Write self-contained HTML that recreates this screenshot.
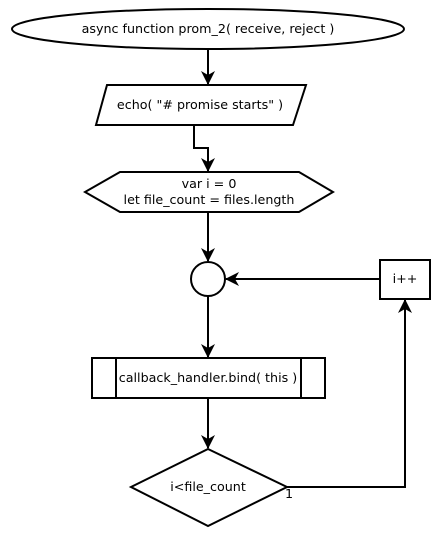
<!DOCTYPE html>
<html><head><style>body{margin:0;background:#fff}svg{display:block}
svg text{font-family:"DejaVu Sans","Liberation Sans",sans-serif;font-size:12.7px;fill:#000;stroke:none;text-anchor:middle}
.s{fill:none;stroke:#000;stroke-width:2px}</style></head><body>
<svg width="438" height="540" viewBox="0 0 438 540" xmlns="http://www.w3.org/2000/svg">
<defs><marker id="a" markerWidth="14" markerHeight="14" refX="13" refY="7" orient="auto" markerUnits="userSpaceOnUse"><path d="M0,0 L14,7 L0,14 L4,7 Z" fill="#000" stroke="none"/></marker></defs>
<g class="s">
<ellipse cx="208" cy="29" rx="196" ry="20"/>
<polygon points="107,85 306,85 293,125 96,125"/>
<polygon points="120,172 299,172 333,192 299,212 120,212 85,192"/>
<circle cx="208" cy="279" r="17"/>
<rect x="92" y="358" width="233" height="40"/>
<line x1="116" y1="358" x2="116" y2="398"/><line x1="301" y1="358" x2="301" y2="398"/>
<polygon points="208,449 287,487 208,526 131,487"/>
<rect x="380" y="260" width="50" height="39"/>
<line x1="208" y1="49" x2="208" y2="84" marker-end="url(#a)"/>
<polyline points="194,125 194,148 208,148 208,171" marker-end="url(#a)"/>
<line x1="208" y1="212" x2="208" y2="261" marker-end="url(#a)"/>
<line x1="208" y1="296" x2="208" y2="357" marker-end="url(#a)"/>
<line x1="208" y1="398" x2="208" y2="448" marker-end="url(#a)"/>
<polyline points="287,487 405,487 405,300" marker-end="url(#a)"/>
<line x1="380" y1="279" x2="226" y2="279" marker-end="url(#a)"/>
</g>
<text x="208" y="33">async function prom_2( receive, reject )</text>
<text x="200" y="109">echo( "# promise starts" )</text>
<text x="209" y="188">var i = 0</text>
<text x="209" y="204">let file_count = files.length</text>
<text x="208" y="382">callback_handler.bind( this )</text>
<text x="208" y="491">i&lt;file_count</text>
<text x="405" y="283">i++</text>
<text x="289" y="498">1</text>
</svg>
</body></html>
